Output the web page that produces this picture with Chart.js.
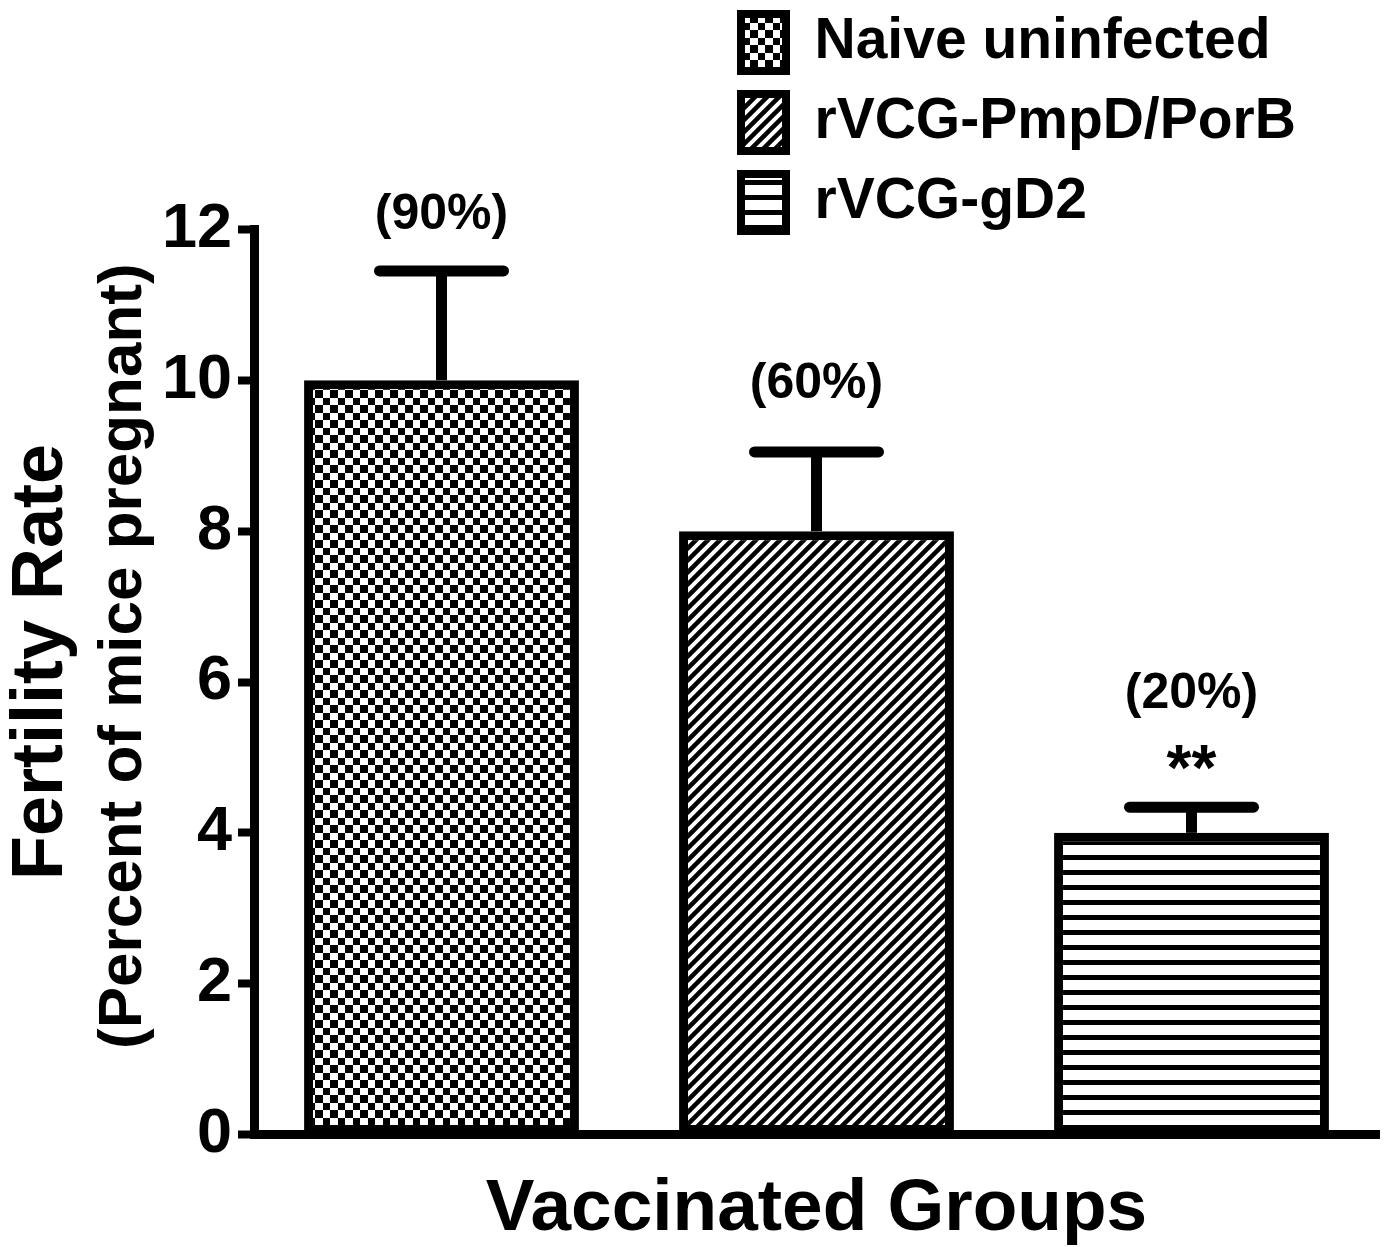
<!DOCTYPE html>
<html>
<head>
<meta charset="utf-8">
<script src="https://cdn.jsdelivr.net/npm/chart.js@4.4.0/dist/chart.umd.min.js"></script>
<style>
  html, body { margin: 0; padding: 0; background: #fff; }
  canvas { display: block; }
</style>
</head>
<body>
<canvas id="fertility" width="1385" height="1247"></canvas>
<script>
const groups = ['Naive uninfected', 'rVCG-PmpD/PorB', 'rVCG-gD2'];
const fertility = [10, 8, 4];
const sem = [1.45, 1.05, 0.34];
const pregnant = ['(90%)', '(60%)', '(20%)'];
const signif = ['', '', '**'];
const yTicks = [0, 2, 4, 6, 8, 10, 12];

const FONT = "'Liberation Sans', Arial, Helvetica, sans-serif";
Chart.defaults.font.family = FONT;
Chart.defaults.font.weight = 'bold';
Chart.defaults.color = '#000';

// black & white fills like the original graph
function makePattern(kind) {
  const c = document.createElement('canvas');
  const g = c.getContext('2d');
  if (kind === 'checker') {
    c.width = c.height = 15;
    g.fillStyle = '#fff'; g.fillRect(0, 0, 15, 15);
    g.fillStyle = '#000'; g.fillRect(0, 0, 8, 8); g.fillRect(8, 8, 7, 7);
  } else if (kind === 'diag') {
    c.width = c.height = 12;
    g.fillStyle = '#fff'; g.fillRect(0, 0, 12, 12);
    g.strokeStyle = '#000'; g.lineWidth = 4.5;
    g.beginPath();
    g.moveTo(0, 12); g.lineTo(12, 0);
    g.moveTo(-6, 6); g.lineTo(6, -6);
    g.moveTo(6, 18); g.lineTo(18, 6);
    g.stroke();
  } else {
    c.width = 4; c.height = 15;
    g.fillStyle = '#fff'; g.fillRect(0, 0, 4, 15);
    g.fillStyle = '#000'; g.fillRect(0, 0, 4, 5);
  }
  return g.createPattern(c, 'repeat');
}
const fills = [makePattern('checker'), makePattern('diag'), makePattern('hlines')];

const errorBars = {
  id: 'errorBars',
  afterDatasetsDraw(chart, args, opts) {
    const ctx = chart.ctx;
    const y = chart.scales.y;
    const bars = chart.getDatasetMeta(0).data;
    ctx.save();
    ctx.strokeStyle = '#000';
    ctx.fillStyle = '#000';
    ctx.lineWidth = opts.width;
    bars.forEach((bar, i) => {
      const top = y.getPixelForValue(fertility[i] + sem[i]);
      ctx.lineCap = 'butt';
      ctx.beginPath(); ctx.moveTo(bar.x, bar.y); ctx.lineTo(bar.x, top); ctx.stroke();
      ctx.lineCap = 'round';
      ctx.beginPath(); ctx.moveTo(bar.x - opts.capHalf, top); ctx.lineTo(bar.x + opts.capHalf, top); ctx.stroke();
      ctx.textAlign = 'center';
      ctx.textBaseline = 'alphabetic';
      ctx.font = 'bold 50px ' + FONT;
      ctx.fillText(pregnant[i], bar.x, top - opts.pctGap[i]);
      if (signif[i]) {
        ctx.font = 'bold 64px ' + FONT;
        ctx.fillText(signif[i], bar.x, top - opts.starGap);
      }
    });
    ctx.restore();
  }
};

// legend sits in the top right corner, over the plot
const legendSpot = {
  id: 'legendSpot',
  beforeDraw(chart, args, opts) {
    chart.legend.left = opts.left;
    chart.legend.top = opts.top;
  }
};

new Chart(document.getElementById('fertility'), {
  type: 'bar',
  data: {
    labels: groups,
    datasets: [{
      label: 'Fertility Rate',
      data: fertility,
      backgroundColor: fills,
      borderColor: '#000',
      borderWidth: 9,
      borderSkipped: false,
      barPercentage: 0.733,
      categoryPercentage: 1
    }]
  },
  options: {
    responsive: false,
    animation: false,
    layout: { padding: { top: 229.5, right: 6, bottom: 0, left: 0 } },
    plugins: {
      tooltip: { enabled: false },
      legend: {
        position: 'chartArea',
        align: 'start',
        labels: {
          font: { size: 57, weight: 'bold' },
          color: '#000',
          boxWidth: 45,
          boxHeight: 57,
          padding: 23,
          generateLabels: () => groups.map((g, i) => ({
            text: g,
            fillStyle: fills[i],
            strokeStyle: '#000',
            lineWidth: 8,
            hidden: false,
            index: i
          }))
        }
      },
      errorBars: { width: 11, capHalf: 62, pctGap: [42, 54, 99], starGap: 17 },
      legendSpot: { left: 718, top: -9 }
    },
    scales: {
      x: {
        grid: { display: false },
        ticks: { display: false },
        border: { display: true, color: '#000', width: 9 },
        title: {
          display: true,
          text: 'Vaccinated Groups',
          font: { size: 73, weight: 'bold', lineHeight: 1 },
          padding: { top: 0, bottom: 1 }
        },
        afterFit(s) { s.height = 112.5; }
      },
      y: {
        min: 0,
        max: 12,
        afterBuildTicks(s) { s.ticks = yTicks.map(v => ({ value: v })); },
        ticks: { font: { size: 63, weight: 'bold' }, padding: 6, autoSkip: false, color: '#000' },
        grid: {
          display: true,
          drawOnChartArea: false,
          drawTicks: true,
          tickLength: 16,
          tickWidth: 8,
          tickColor: '#000',
          color: '#000'
        },
        border: { display: true, color: '#000', width: 9 },
        title: {
          display: true,
          text: '   (Percent of mice pregnant)',
          font: { size: 62, weight: 'bold', lineHeight: 1 },
          padding: { top: 8, bottom: 0 }
        },
        afterFit(s) { s.width = 169; }
      },
      y2: {
        position: 'left',
        weight: 1,
        display: true,
        grid: { display: false },
        border: { display: false },
        ticks: { display: false },
        title: {
          display: true,
          text: '  Fertility Rate',
          font: { size: 72, weight: 'bold', lineHeight: 1 },
          padding: { top: 6, bottom: 0 }
        },
        afterFit(s) { s.width = 85; }
      }
    }
  },
  plugins: [errorBars, legendSpot]
});
</script>
</body>
</html>
